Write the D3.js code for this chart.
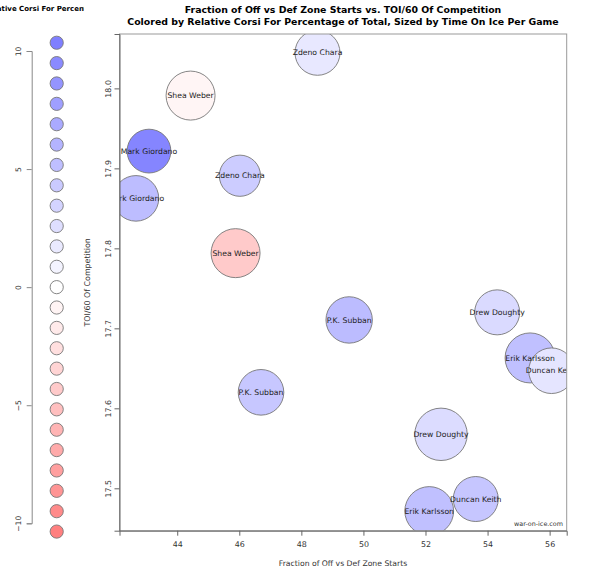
<!DOCTYPE html>
<html><head><meta charset="utf-8">
<script src="https://cdn.jsdelivr.net/npm/d3@7"></script>
<style>body{margin:0;background:#fff}svg{display:block;font-family:"DejaVu Sans",sans-serif}</style>
</head><body>
<svg id="c" width="600" height="572"></svg>
<script>
const players = ["Zdeno Chara","Shea Weber","Mark Giordano","Zdeno Chara","Mark Giordano","Shea Weber","P.K. Subban","P.K. Subban","Drew Doughty","Erik Karlsson","Duncan Keith","Drew Doughty","Duncan Keith","Erik Karlsson"];
const zoneStarts = [48.52,44.43,43.09,46.02,42.67,45.88,49.54,46.70,54.31,55.37,56.06,52.50,53.62,52.12];
const toiComp =    [18.0445,17.991,17.9216,17.8908,17.8625,17.794,17.7105,17.620,17.720,17.663,17.647,17.5675,17.4866,17.4716];
const relCorsi =   [1.9,-0.8,9.9,4.1,5.3,-4.3,5.4,4.5,3.0,5.1,2.1,2.8,4.6,5.1];
const toiPerGame = [22.5,24.5,21.9,20.6,22.8,24.5,23.2,22.8,22.5,25.0,22.8,26.2,22.5,24.4];
const xTicks = [44,46,48,50,52,54,56];
const yTicks = [17.5,17.6,17.7,17.8,17.9,18.0];
const legendTicks = [-10,-5,0,5,10];
const legendSteps = d3.range(12,-13,-1);

const svg = d3.select("#c");
const L = 119.5, R = 566.7, T = 34, B = 530.7;
const x = d3.scaleLinear().domain([42.14,56.55]).range([L,R]);
const y = d3.scaleLinear().domain([17.447,18.068]).range([B,T]);
const r = d3.scaleLinear().domain([0,30]).range([0,30]);
const color = d3.scaleLinear().domain([-10.35,0,10.35]).range(["#ff7f7f","#ffffff","#7f7fff"]).clamp(true);

// titles
svg.append("text").attr("x",343).attr("y",13).attr("text-anchor","middle").attr("font-weight","bold").attr("font-size",9.4).attr("fill","#000").text("Fraction of Off vs Def Zone Starts vs. TOI/60 Of Competition");
svg.append("text").attr("x",343).attr("y",24.5).attr("text-anchor","middle").attr("font-weight","bold").attr("font-size",9.4).attr("fill","#000").text("Colored by Relative Corsi For Percentage of Total, Sized by Time On Ice Per Game");

// plot clip
svg.append("clipPath").attr("id","pc").append("rect").attr("x",L).attr("y",T).attr("width",R-L).attr("height",B-T);
const g = svg.append("g").attr("clip-path","url(#pc)");
const idx = d3.range(players.length);
g.selectAll("circle").data(idx).join("circle")
  .attr("cx",i=>x(zoneStarts[i])).attr("cy",i=>y(toiComp[i])).attr("r",i=>r(toiPerGame[i]))
  .attr("fill",i=>color(relCorsi[i])).attr("stroke","#777").attr("stroke-width",0.9);
g.selectAll("text").data(idx).join("text")
  .attr("x",i=>x(zoneStarts[i])).attr("y",i=>y(toiComp[i])).attr("dy","0.35em")
  .attr("text-anchor","middle").attr("font-size",7.7).attr("fill","#222").text(i=>players[i]);

// box
svg.append("rect").attr("x",L).attr("y",T).attr("width",R-L).attr("height",B-T).attr("fill","none").attr("stroke","#999").attr("stroke-width",1);

// axes
const xa = svg.append("g").attr("transform",`translate(0,${B})`).call(d3.axisBottom(x).tickValues(xTicks).tickSize(5).tickPadding(6).tickFormat(d3.format("d")));
const ya = svg.append("g").attr("transform",`translate(${L},0)`).call(d3.axisLeft(y).tickValues(yTicks).tickSize(5).tickPadding(4).tickFormat(d3.format(".1f")));
[xa,ya].forEach(a=>{a.select(".domain").attr("stroke","#666");a.selectAll(".tick line").attr("stroke","#666");a.selectAll("text").attr("font-family","DejaVu Sans").attr("font-size",7.9).attr("fill","#333");});
ya.selectAll(".tick text").attr("x",0).attr("y",-8.5).attr("dy","0").attr("transform","rotate(-90)").attr("text-anchor","middle");

svg.append("text").attr("x",343).attr("y",566).attr("text-anchor","middle").attr("font-size",7.7).attr("fill","#333").text("Fraction of Off vs Def Zone Starts");
svg.append("text").attr("transform",`translate(90,${(T+B)/2}) rotate(-90)`).attr("text-anchor","middle").attr("font-size",7.9).attr("fill","#333").text("TOI/60 Of Competition");
svg.append("text").attr("x",563).attr("y",526).attr("text-anchor","end").attr("font-size",6.4).attr("fill","#333").text("war-on-ice.com");

// legend
svg.append("clipPath").attr("id","lc").append("rect").attr("x",0).attr("y",0).attr("width",84).attr("height",572);
const lg = svg.append("g").attr("clip-path","url(#lc)");
lg.append("text").attr("x",43).attr("y",11).attr("text-anchor","middle").attr("font-weight","bold").attr("font-size",7.0).attr("fill","#000").text("Relative Corsi For Percentage");
const ly = d3.scaleLinear().domain([10,-10]).range([51,523.3]);
const la = lg.append("g").attr("transform","translate(31.7,0)").call(d3.axisLeft(ly).tickValues(legendTicks).tickSize(5).tickPadding(4).tickFormat(d3.format("d")));
la.select(".domain").attr("stroke","#888");la.selectAll(".tick line").attr("stroke","#888");
la.selectAll(".tick text").attr("font-family","DejaVu Sans").attr("font-size",7.6).attr("fill","#333").attr("x",0).attr("y",-11).attr("dy","0").attr("transform","rotate(-90)").attr("text-anchor","middle");
lg.selectAll("circle.leg").data(legendSteps).join("circle").attr("class","leg")
  .attr("cx",56.7).attr("cy",s=>ly(s*0.8625)).attr("r",6.6)
  .attr("fill",s=>color(s*0.8625)).attr("stroke","#777").attr("stroke-width",0.9);
</script>
</body></html>
